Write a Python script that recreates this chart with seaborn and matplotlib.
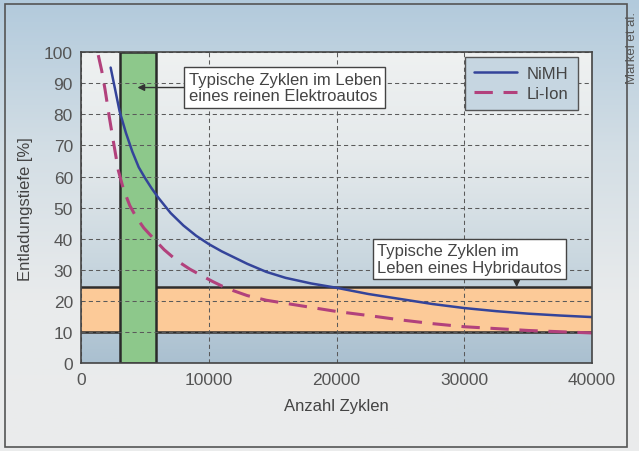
import numpy as np
import pandas as pd
import matplotlib
matplotlib.use('Agg')
import matplotlib.pyplot as plt
from matplotlib.colors import LinearSegmentedColormap
from matplotlib.patches import Rectangle
import seaborn as sns

# values
nimh_cycles = [2300, 2600, 3000, 3500, 4000, 4500, 5000, 5500, 6000, 7000,
               8000, 9000, 10000, 11000, 12000, 13000, 14500, 16000, 18000, 20000,
               22500, 25000, 27500, 30000, 32500, 35000, 37500, 40000]
nimh_dod = [95, 89, 81, 74, 68, 63, 59.5, 56.3, 53.4, 48.3,
            44.3, 41, 38.3, 36.0, 34.0, 32.0, 29.4, 27.5, 25.7, 24.3,
            22.3, 20.7, 19.1, 17.8, 16.8, 16.0, 15.4, 14.9]

liion_cycles = [1330, 1600, 1860, 2200, 2500, 2900, 3300, 3800, 4300, 4900,
                5800, 6500, 7500, 8500, 9300, 10300, 11000, 11900, 13000, 14500,
                17100, 20000, 22500, 25000, 27500, 30000, 35000, 40000]
liion_dod = [99, 94, 88, 79, 71.6, 62, 56, 50.7, 47, 43.5,
             39.5, 36.5, 33, 30.3, 28.5, 26.3, 24.9, 23.4, 21.8, 20.3,
             18.6, 16.7, 15.4, 14.0, 12.8, 11.8, 10.6, 9.8]

ev_range = (3000, 5850)      # Zyklen, reines Elektroauto
hybrid_range = (10, 24.5)    # Entladungstiefe, Hybridauto

x_ticks = [0, 10000, 20000, 30000, 40000]
y_ticks = list(range(0, 101, 10))

df = pd.concat([
    pd.DataFrame({'Zyklen': nimh_cycles, 'Tiefe': nimh_dod, 'Typ': 'NiMH'}),
    pd.DataFrame({'Zyklen': liion_cycles, 'Tiefe': liion_dod, 'Typ': 'Li-Ion'}),
])

sns.set_theme(style='ticks')
plt.rcParams['font.family'] = ['Liberation Sans', 'DejaVu Sans']

fig = plt.figure(figsize=(6.39, 4.52), dpi=100)

# figure background gradient + outer frame
bg = fig.add_axes([0, 0, 1, 1], zorder=-5)
fig_cmap = LinearSegmentedColormap.from_list('figbg', ['#b2cadc', '#d3dee5', '#e9ebec', '#ebecec'])
bg.imshow(np.linspace(0, 1, 256).reshape(-1, 1), aspect='auto', cmap=fig_cmap,
          extent=[0, 1, 0, 1])
bg.set_xlim(0, 1)
bg.set_ylim(0, 1)
bg.axis('off')
fig.patches.append(Rectangle((5 / 639, 4 / 452), 622 / 639, 443 / 452, transform=fig.transFigure,
                             fill=False, edgecolor='#555555', lw=1.2, zorder=-1))

ax = fig.add_axes([0.1272, 0.1936, 0.7992, 0.6891])
ax.set_facecolor('none')

# light at the top, blue-grey at the bottom
ax_cmap = LinearSegmentedColormap.from_list(
    'axbg', [(0, '#eff1f1'), (0.35, '#e4e9eb'), (0.65, '#cbd8e0'), (1, '#aac0d0')])
ax.imshow(np.linspace(0, 1, 256).reshape(-1, 1), aspect='auto', cmap=ax_cmap,
          extent=[0, 40000, 0, 100], zorder=0)

# hybrid band and EV column
ax.axhspan(hybrid_range[0], hybrid_range[1], color='#fcca98', zorder=1)
ax.axhline(hybrid_range[0], color='#2e2e2e', lw=1.8, zorder=1.5)
ax.axhline(hybrid_range[1], color='#2e2e2e', lw=1.8, zorder=1.5)
ax.add_patch(Rectangle((ev_range[0], 0), ev_range[1] - ev_range[0], 100,
                       facecolor='#8dc88b', edgecolor='#2a2a2a', lw=1.8, zorder=2))
ax.set_axisbelow(False)
ax.grid(True, linestyle=(0, (4, 3)), color='#5a5a5a', lw=0.75, zorder=3)

sns.lineplot(data=df[df.Typ == 'NiMH'], x='Zyklen', y='Tiefe', color='#34449a',
             lw=1.8, ax=ax, label='NiMH', zorder=4)
sns.lineplot(data=df[df.Typ == 'Li-Ion'], x='Zyklen', y='Tiefe', color='#b2417c',
             lw=2.2, ax=ax, label='Li-Ion', zorder=4, linestyle=(0, (6, 3.5)))

ax.set_xlim(0, 40000)
ax.set_ylim(0, 100)
ax.set_xticks(x_ticks)
ax.set_yticks(y_ticks)
ax.set_xticklabels([str(t) for t in x_ticks])
ax.tick_params(length=0, labelsize=12.5, colors='#555555', pad=6)
for s in ax.spines.values():
    s.set_color('#444444')
    s.set_linewidth(1.2)
    s.set_zorder(5)

ax.set_xlabel('Anzahl Zyklen', fontsize=12, color='#444444', labelpad=8)
ax.set_ylabel('Entladungstiefe [%]', fontsize=12, color='#444444', labelpad=8)

leg = ax.legend(loc='upper right', bbox_to_anchor=(0.9726, 0.984), borderaxespad=0,
                fontsize=12, handlelength=2.6, frameon=True, fancybox=False,
                borderpad=0.55, labelspacing=0.3, handletextpad=0.6)
leg.get_frame().set_facecolor('#c6d6e1')
leg.get_frame().set_edgecolor('#555555')
leg.get_frame().set_linewidth(1.0)
leg.get_frame().set_alpha(1)
for t in leg.get_texts():
    t.set_color('#444444')
leg.set_zorder(6)

box = dict(boxstyle='square,pad=0.25', facecolor='white', edgecolor='#444444', lw=1)
arrow = dict(arrowstyle='-|>', color='#333333', lw=1, mutation_scale=10,
             shrinkA=0, shrinkB=0)
ax.annotate('Typische Zyklen im Leben\neines reinen Elektroautos',
            xy=(4400, 88.6), xytext=(8400, 88.6), ha='left', va='center',
            fontsize=12, color='#444444', linespacing=1.15, bbox=box,
            arrowprops=arrow, zorder=6)
ax.annotate('', xy=(34100, hybrid_range[1]), xytext=(34100, 29.3),
            arrowprops=arrow, zorder=6)
ax.text(23200, 33.5, 'Typische Zyklen im\nLeben eines Hybridautos', ha='left', va='center',
        fontsize=12, color='#444444', linespacing=1.15, bbox=box, zorder=6)

fig.text(632 / 639, 1 - 84 / 452, 'Markel et al.', rotation=90, ha='center', va='bottom',
         fontsize=9.5, color='#555555')

fig.savefig('out.png', dpi=100)
